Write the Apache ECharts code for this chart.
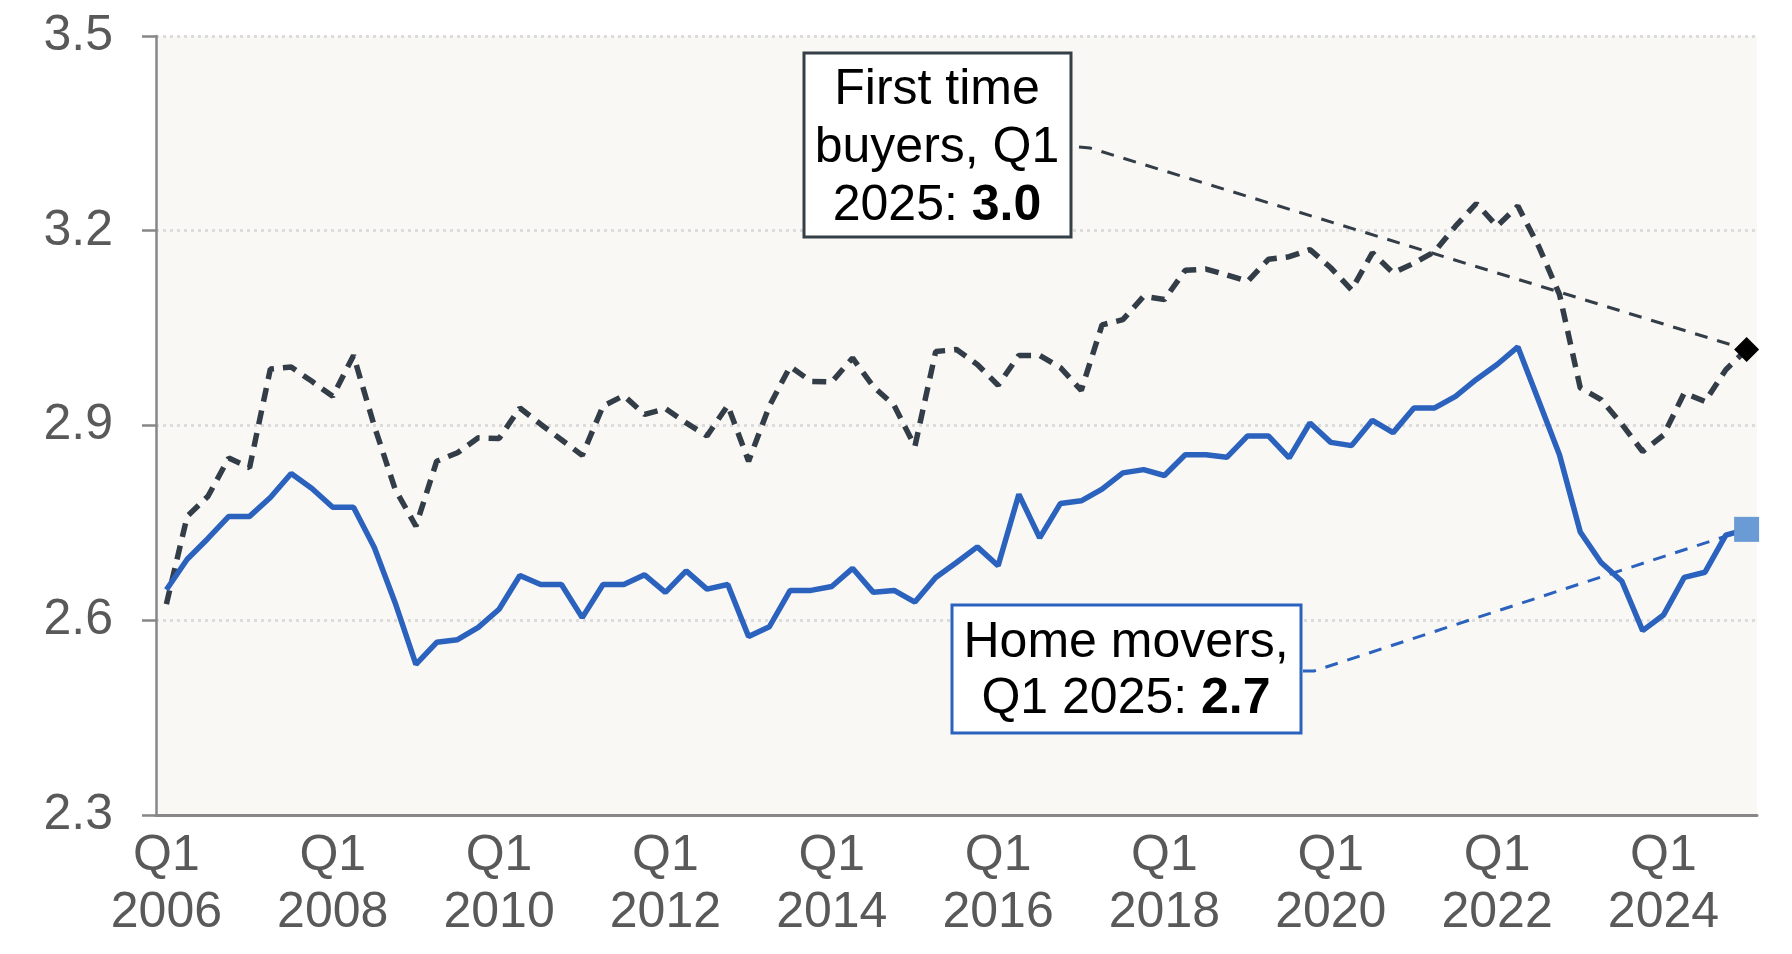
<!DOCTYPE html>
<html>
<head>
<meta charset="utf-8">
<script src="https://cdn.jsdelivr.net/npm/echarts@6/dist/echarts.min.js"></script>
<style>
  html, body { margin: 0; padding: 0; background: #fff; }
  #chart { width: 1792px; height: 954px; }
</style>
</head>
<body>
<div id="chart"></div>
<script>
// quarterly categories, Q1 2006 .. Q1 2025
const categories = [];
for (let y = 2006; y <= 2025; y++) {
  for (let q = 1; q <= 4; q++) {
    if (y === 2025 && q > 1) break;
    categories.push('Q' + q + ' ' + y);
  }
}

// first time buyers (dashed)
const firstTimeBuyers = [
  2.625, 2.760, 2.791, 2.850, 2.835, 2.987, 2.990, 2.968, 2.945, 3.008,
  2.899, 2.802, 2.745, 2.845, 2.858, 2.881, 2.880, 2.927, 2.902, 2.878,
  2.854, 2.930, 2.946, 2.917, 2.926, 2.904, 2.884, 2.931, 2.845, 2.930,
  2.991, 2.968, 2.967, 3.004, 2.960, 2.931, 2.868, 3.014, 3.017, 2.994,
  2.962, 3.008, 3.008, 2.989, 2.954, 3.055, 3.063, 3.099, 3.094, 3.139,
  3.141, 3.132, 3.122, 3.156, 3.160, 3.171, 3.143, 3.109, 3.166, 3.135,
  3.150, 3.168, 3.207, 3.242, 3.207, 3.238, 3.176, 3.102, 2.958, 2.940,
  2.902, 2.860, 2.885, 2.950, 2.937, 2.986, 3.017
];

// home movers (solid blue)
const homeMovers = [
  2.647, 2.694, 2.726, 2.760, 2.760, 2.789, 2.826, 2.803, 2.774, 2.774,
  2.712, 2.627, 2.532, 2.566, 2.570, 2.589, 2.617, 2.669, 2.655, 2.655,
  2.604, 2.655, 2.655, 2.670, 2.643, 2.676, 2.648, 2.655, 2.575, 2.590,
  2.646, 2.646, 2.652, 2.680, 2.643, 2.646, 2.628, 2.666, 2.689, 2.713,
  2.684, 2.794, 2.727, 2.780, 2.784, 2.802, 2.827, 2.832, 2.823, 2.855,
  2.855, 2.851, 2.884, 2.884, 2.850, 2.904, 2.874, 2.869, 2.908, 2.889,
  2.927, 2.927, 2.945, 2.971, 2.994, 3.021, 2.938, 2.855, 2.736, 2.689,
  2.660, 2.584, 2.608, 2.666, 2.674, 2.731, 2.740
];

// y axis ticks
const yTicks = [2.3, 2.6, 2.9, 3.2, 3.5];
const yStep = 0.3;

const FONT = '"Liberation Sans", Arial, Helvetica, sans-serif';
const DARK = '#333d47';
const BLUE = '#2b62bd';
const FS = 50;

const last = categories.length - 1;

const chart = echarts.init(document.getElementById('chart'));

chart.setOption({
  animation: false,
  backgroundColor: '#fff',
  textStyle: { fontFamily: FONT },
  grid: {
    left: 156, right: 35, top: 36, bottom: 139,
    show: true, backgroundColor: '#f9f8f5', borderWidth: 0
  },
  xAxis: {
    type: 'category',
    data: categories,
    boundaryGap: true,
    axisLine: { lineStyle: { color: '#878787', width: 3 } },
    axisTick: { interval: 3, length: 11, lineStyle: { color: '#878787', width: 2.5 } },
    axisLabel: {
      interval: 7,
      fontSize: FS,
      lineHeight: 57,
      color: '#595959',
      margin: 13,
      formatter: v => v.replace(' ', '\n')
    },
    splitLine: { show: false }
  },
  yAxis: {
    type: 'value',
    min: yTicks[0],
    max: yTicks[yTicks.length - 1],
    interval: yStep,
    axisLine: { show: true, lineStyle: { color: '#878787', width: 2.5 } },
    axisTick: { show: true, length: 14, lineStyle: { color: '#878787', width: 2.5 } },
    axisLabel: {
      fontSize: FS,
      color: '#595959',
      margin: 43,
      formatter: v => v.toFixed(1)
    },
    splitLine: { lineStyle: { color: '#dcdcdc', width: 3, type: [3, 4] } }
  },
  series: [
    {
      name: 'First time buyers',
      type: 'line',
      data: firstTimeBuyers,
      symbol: 'none',
      lineStyle: { color: DARK, width: 5.5, type: [14, 9] },
      z: 3,
      markPoint: {
        symbol: 'diamond',
        symbolSize: 25,
        label: { show: false },
        itemStyle: { color: '#000' },
        data: [{ coord: [last, firstTimeBuyers[last]] }],
        z: 6
      }
    },
    {
      name: 'Home movers',
      type: 'line',
      data: homeMovers,
      symbol: 'none',
      lineStyle: { color: BLUE, width: 5.5 },
      z: 4,
      markPoint: {
        symbol: 'rect',
        symbolSize: 25,
        label: { show: false },
        itemStyle: { color: '#6a9bd5' },
        data: [{ coord: [last, homeMovers[last]] }],
        z: 6
      }
    }
  ]
});

// annotation boxes and leader lines, ends taken from the last data points
const ftbEnd = chart.convertToPixel({ gridIndex: 0 }, [last, firstTimeBuyers[last]]);
const hmEnd = chart.convertToPixel({ gridIndex: 0 }, [last, homeMovers[last]]);

chart.setOption({
  graphic: [
    {
      type: 'polyline', z: 5,
      shape: { points: [[1079, 147], [1090, 148], ftbEnd] },
      style: { stroke: DARK, lineWidth: 3, lineDash: [13, 10], fill: null }
    },
    {
      type: 'polyline', z: 5,
      shape: { points: [[1303, 671], [1314, 671], hmEnd] },
      style: { stroke: BLUE, lineWidth: 3, lineDash: [13, 10], fill: null }
    },
    {
      type: 'rect', z: 10,
      shape: { x: 804, y: 53, width: 267, height: 184 },
      style: { fill: '#fff', stroke: '#353f48', lineWidth: 3 }
    },
    {
      type: 'text', z: 11,
      x: 937, y: 148,
      style: {
        text: 'First time\nbuyers, Q1\n2025: {b|3.0}',
        fontSize: FS, fontFamily: FONT, fill: '#000',
        align: 'center', verticalAlign: 'middle', lineHeight: 58,
        rich: { b: { fontWeight: 'bold', fontSize: FS, fontFamily: FONT, lineHeight: 58 } }
      }
    },
    {
      type: 'rect', z: 10,
      shape: { x: 952, y: 605, width: 349, height: 128 },
      style: { fill: '#fff', stroke: BLUE, lineWidth: 3 }
    },
    {
      type: 'text', z: 11,
      x: 1126, y: 671,
      style: {
        text: 'Home movers,\nQ1 2025: {b|2.7}',
        fontSize: FS, fontFamily: FONT, fill: '#000',
        align: 'center', verticalAlign: 'middle', lineHeight: 56,
        rich: { b: { fontWeight: 'bold', fontSize: FS, fontFamily: FONT, lineHeight: 56 } }
      }
    }
  ]
});
</script>
</body>
</html>
